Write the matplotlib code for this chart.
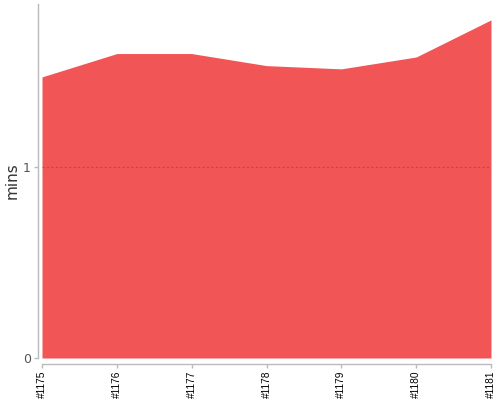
import numpy as np
import matplotlib
matplotlib.use("Agg")
import matplotlib.pyplot as plt

# build ids and durations (mins)
builds = ["#1175", "#1176", "#1177", "#1178", "#1179", "#1180", "#1181"]
mins = [1.469, 1.591, 1.591, 1.528, 1.511, 1.573, 1.767]

fig = plt.figure(figsize=(5, 4), dpi=100)
ax = fig.add_axes([0.084, 0.105, 0.898, 0.885])

x = np.arange(len(builds))
ax.fill_between(x, 0, mins, color="#f25555", linewidth=0, zorder=1)
ax.axhline(1, color="#a83a3a", linestyle=(0, (2, 2)), linewidth=0.8, alpha=0.6, zorder=2)

ax.set_xlim(0, len(builds) - 1)
ax.set_ylim(0, 1.85)
ax.set_xticks(x)
ax.set_xticklabels(builds)
ax.set_yticks([0, 1])
ax.set_yticklabels(["0", "1"])
ax.set_ylabel("mins", fontsize=11, color="#333333", labelpad=2)

for side in ["top", "right"]:
    ax.spines[side].set_visible(False)
ax.spines["left"].set_position(("outward", 3))
ax.spines["bottom"].set_position(("outward", 4))
for side in ["left", "bottom"]:
    ax.spines[side].set_color("#bbbbbb")
    ax.spines[side].set_linewidth(1)
ax.tick_params(axis="both", colors="#bbbbbb", length=3, width=1)
ax.tick_params(axis="x", labelcolor="#000000", pad=2, labelrotation=90, labelsize=7.3)
ax.tick_params(axis="y", labelcolor="#555555", pad=2, labelsize=9)
for lab in ax.get_xticklabels():
    lab.set_family("Liberation Sans")

fig.savefig("out.png", dpi=100)
